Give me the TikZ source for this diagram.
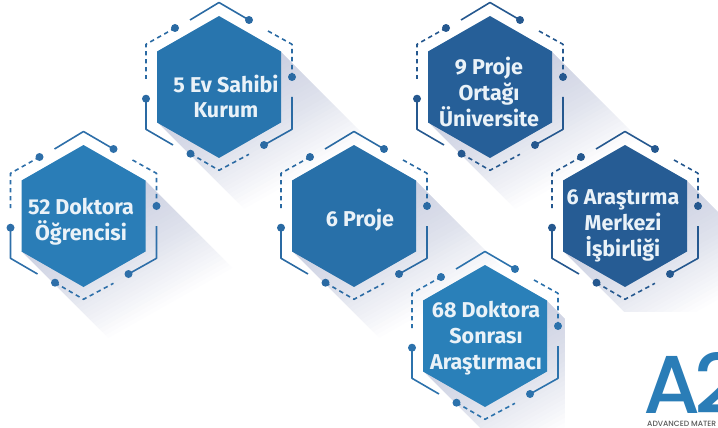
\documentclass[tikz,border=0pt]{standalone}
\usepackage{fontspec}
\setmainfont{Fira Sans}
\newfontfamily\logofont{Poppins}[UprightFont=* Medium,BoldFont=* SemiBold]
\definecolor{cA}{HTML}{2A7DB7}
\definecolor{cB}{HTML}{2875AE}
\definecolor{cC}{HTML}{2870A9}
\definecolor{cD}{HTML}{265F98}
\definecolor{cE}{HTML}{265C94}
\definecolor{cF}{HTML}{2A80B9}
\definecolor{lA}{HTML}{2E6FA9}
\definecolor{lB}{HTML}{2A6AA3}
\definecolor{lC}{HTML}{2A6AA3}
\definecolor{lD}{HTML}{25588F}
\definecolor{lE}{HTML}{25588F}
\definecolor{lF}{HTML}{2C72AC}
\definecolor{shadowc}{HTML}{4A5A96}
\definecolor{hextext}{HTML}{EAF2F8}
\tikzset{
  circuit/.style={line width=1.6pt,line join=round},
  dashline/.style={circuit,dash pattern=on 4.4pt off 3.6pt},
  hexlabel/.style={text=hextext,font=\fontsize{21.5}{25.7}\selectfont\bfseries,align=center,inner sep=0pt},
  shadowlayer/.style={fill=shadowc,fill opacity=.01,draw=none}
}
\newcommand{\hexshadow}[2]{%
  \begin{scope}[shift={(#1,#2)}]
    \foreach \len in {3,6,...,87}
      \fill[shadowlayer] (62,-35) -- ++(\len,\len) -- (-62+\len,35+\len) -- (-62,35) -- cycle;
  \end{scope}}
\newcommand{\hexunit}[4]{%
  \begin{scope}[shift={(#1,#2)}]
    \fill[#3] (0,-71) -- (62,-35.5) -- (62,35.5) -- (0,71) -- (-62,35.5) -- (-62,-35.5) -- cycle;
    \draw[circuit,#4] (-29,-67) -- (0,-84.5) -- (30,-67);
    \fill[#4] (30,-67) circle (4);
    \draw[dashline,#4] (-44,-59) -- (-73,-42.7) -- (-73,-8);
    \fill[#4] (-44,-59) circle (4);
    \draw[dashline,#4] (49,-56) -- (73,-42.7) -- (73,-10);
    \fill[#4] (73,-10) circle (4);
    \draw[circuit,#4] (73,10) -- (73,42.3) -- (45,58);
    \fill[#4] (45,58) circle (4);
    \draw[dashline,#4] (-28.5,66.7) -- (0,83.3) -- (30,67.3);
    \fill[#4] (-28.5,66.7) circle (4);
    \draw[circuit,#4] (-73,11.7) -- (-73,42.3) -- (-46,58);
    \fill[#4] (-73,11.7) circle (4);
  \end{scope}}
\begin{document}
\begin{tikzpicture}[x=1pt,y=-1pt]
\useasboundingbox (0,0) rectangle (718,428);
\begin{scope}
\clip (0,0) rectangle (718,428);
\hexshadow{83.5}{216}
\hexshadow{219}{87}
\hexshadow{354}{216}
\hexshadow{490}{87}
\hexshadow{625}{216}
\hexshadow{485}{336}
\fill[white] (565,312) rectangle (718,428);
\hexunit{83.5}{216}{cA}{lA}
\hexunit{219}{87}{cB}{lB}
\hexunit{354}{216}{cC}{lC}
\hexunit{490}{87}{cD}{lD}
\hexunit{625}{216}{cE}{lE}
\hexunit{485}{336}{cF}{lF}
\node[anchor=base west,inner sep=0pt,text height=50pt,text depth=0pt,text=cA,font=\logofont\fontsize{82}{82}\selectfont] (logo) at (643,413) {A\kern-6pt 2};
\node[anchor=base west,inner sep=0pt,text=black!65,font=\logofont\fontsize{7.6}{8}\selectfont] (logotext) at (647,426) {ADVANCED MATER};
\end{scope}
\node[hexlabel] (h1) at (81,221.5) {52 Doktora\\Öğrencisi};
\node[hexlabel] (h2) at (226,96.5) {5 Ev Sahibi\\Kurum};
\node[hexlabel] (h3) at (360,220) {6 Proje};
\node[hexlabel] (h4) at (489,92) {9 Proje\\Ortağı\\Üniversite};
\node[hexlabel] (h5) at (623,226) {6 Araştırma\\Merkezi\\İşbirliği};
\node[hexlabel] (h6) at (486,338) {68 Doktora\\Sonrası\\Araştırmacı};
\end{tikzpicture}
\end{document}
